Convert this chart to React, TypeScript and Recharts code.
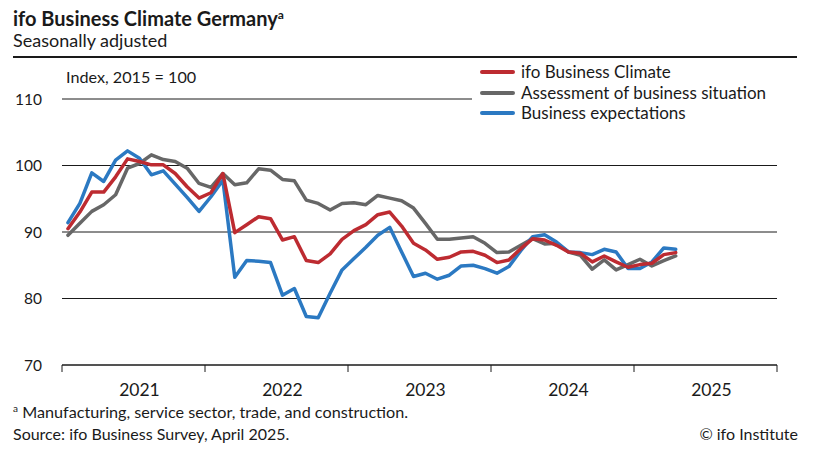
import React from "react";
import { LineChart, Line, XAxis, YAxis, CartesianGrid } from "recharts";

const START_YEAR = 2021;
const yearLabels = ["2021", "2022", "2023", "2024", "2025"];
const yTicks = [70, 80, 90, 100, 110];

const climate = [
  90.5, 93.0, 96.0, 96.0, 98.3, 101.0, 100.6, 100.1, 100.1, 98.8, 96.8, 95.1,
  95.9, 98.8, 89.9, 91.1, 92.3, 92.0, 88.8, 89.3, 85.7, 85.4, 86.7, 88.9,
  90.2, 91.1, 92.6, 93.0, 90.9, 88.3, 87.3, 85.9, 86.2, 87.0, 87.1, 86.5,
  85.4, 85.8, 87.5, 89.0, 88.8, 88.0, 87.0, 86.8, 85.5, 86.4, 85.5, 84.7,
  85.1, 85.3, 86.6, 86.9,
];
const situation = [
  89.5, 91.3, 93.1, 94.1, 95.6, 99.6, 100.3, 101.6, 100.9, 100.6, 99.6, 97.3,
  96.7, 98.8, 97.1, 97.4, 99.5, 99.3, 97.9, 97.7, 94.8, 94.3, 93.3, 94.3,
  94.4, 94.1, 95.5, 95.1, 94.7, 93.6, 91.3, 88.9, 88.9, 89.1, 89.3, 88.3,
  86.9, 87.0, 88.0, 89.0, 88.2, 88.3, 87.0, 86.5, 84.4, 85.8, 84.3, 85.1,
  85.9, 84.9, 85.7, 86.4,
];
const expectations = [
  91.4, 94.3, 98.9, 97.6, 100.8, 102.2, 101.1, 98.6, 99.2, 97.2, 95.2, 93.1,
  95.3, 97.8, 83.2, 85.7, 85.6, 85.4, 80.5, 81.5, 77.3, 77.1, 80.8, 84.3,
  86.0, 87.7, 89.5, 90.7, 87.0, 83.3, 83.8, 82.9, 83.5, 84.9, 85.0, 84.5,
  83.8, 84.8, 87.2, 89.3, 89.6, 88.5, 87.0, 86.9, 86.6, 87.4, 87.0, 84.5,
  84.5, 85.5, 87.6, 87.4,
];

const series = [
  { key: "climate", name: "ifo Business Climate", color: "#bd2b31" },
  { key: "situation", name: "Assessment of business situation", color: "#676767" },
  { key: "expectations", name: "Business expectations", color: "#2b79c2" },
];
const drawOrder = ["situation", "expectations", "climate"];

const data = climate.map((c, i) => ({
  m: i + 0.5,
  climate: c,
  situation: situation[i],
  expectations: expectations[i],
}));

const MONTHS = yearLabels.length * 12;
const boundaryTicks = Array.from({ length: yearLabels.length + 1 }, (_, i) => i * 12);
const labelTicks = yearLabels.map((_, i) => i * 12 + 6.5);
const xTicks = [...boundaryTicks, ...labelTicks].sort((a, b) => a - b);

const FONT = "Lato, 'Open Sans', sans-serif";
const TEXT = "#1a1a1a";

const XTick = (props: any) => {
  const { x, y, payload } = props;
  const v = payload.value as number;
  if (v % 12 === 0) {
    return <line x1={x} x2={x} y1={y} y2={y + 7} stroke={TEXT} strokeWidth={1} />;
  }
  const label = yearLabels[Math.floor(v / 12)] ?? String(START_YEAR + Math.floor(v / 12));
  return (
    <text x={x} y={y + 30.5} textAnchor="middle" fontSize={17.5} fill={TEXT} fontFamily={FONT}>
      {label}
    </text>
  );
};

export default function App() {
  return (
    <div
      style={{
        position: "absolute",
        left: 0,
        top: 0,
        width: 815,
        height: 455,
        background: "#fff",
        fontFamily: FONT,
        color: TEXT,
        overflow: "hidden",
      }}
    >
      <div style={{ position: "absolute", left: 13, top: 6, fontSize: 20, fontWeight: 700, whiteSpace: "nowrap" }}>
        ifo Business Climate Germany<sup style={{ fontSize: 12, verticalAlign: "top", position: "relative", top: 1 }}>a</sup>
      </div>
      <div style={{ position: "absolute", left: 13, top: 29, fontSize: 18, whiteSpace: "nowrap" }}>
        Seasonally adjusted
      </div>
      <div style={{ position: "absolute", left: 13, top: 56, width: 784, height: 2, background: TEXT }} />

      <LineChart
        width={815}
        height={455}
        data={data}
        margin={{ top: 99, right: 38, bottom: 60, left: 15 }}
        style={{ position: "absolute", left: 0, top: 0 }}
      >
        <CartesianGrid vertical={false} stroke={TEXT} strokeWidth={1} />
        <XAxis
          dataKey="m"
          type="number"
          domain={[0, MONTHS]}
          ticks={xTicks}
          interval={0}
          height={30}
          tickSize={0}
          tickMargin={0}
          tickLine={false}
          axisLine={{ stroke: TEXT, strokeWidth: 1 }}
          tick={<XTick />}
        />
        <YAxis
          domain={[70, 110]}
          ticks={yTicks}
          interval={0}
          width={47}
          axisLine={false}
          tickLine={false}
          tickSize={0}
          tickMargin={20}
          tick={{ fontSize: 15.5, fill: TEXT, fontFamily: FONT }}
        />
        {drawOrder.map((k) => {
          const s = series.find((x) => x.key === k)!;
          return (
            <Line
              key={k}
              dataKey={k}
              name={s.name}
              stroke={s.color}
              strokeWidth={3.5}
              dot={false}
              type="linear"
              isAnimationActive={false}
              strokeLinejoin="round"
              strokeLinecap="round"
            />
          );
        })}
      </LineChart>

      <div style={{ position: "absolute", left: 66, top: 67, fontSize: 16.2, whiteSpace: "nowrap" }}>
        Index, 2015 = 100
      </div>

      <div
        style={{
          position: "absolute",
          left: 472,
          top: 62,
          width: 330,
          height: 62,
          background: "#fff",
        }}
      >
        {series.map((s, i) => (
          <div key={s.key} style={{ position: "absolute", left: 0, top: i * 20.5, height: 20, width: 330 }}>
            <div
              style={{
                position: "absolute",
                left: 8,
                top: 8,
                width: 35,
                height: 4,
                borderRadius: 2,
                background: s.color,
              }}
            />
            <div style={{ position: "absolute", left: 49, top: 0, fontSize: 17, lineHeight: "20px", whiteSpace: "nowrap" }}>
              {s.name}
            </div>
          </div>
        ))}
      </div>

      <div style={{ position: "absolute", left: 13, top: 402, fontSize: 16.2, whiteSpace: "nowrap" }}>
        <sup style={{ fontSize: 10, verticalAlign: "top" }}>a</sup> Manufacturing, service sector, trade, and construction.
      </div>
      <div style={{ position: "absolute", left: 13, top: 424, fontSize: 16, whiteSpace: "nowrap" }}>
        Source: ifo Business Survey, April 2025.
      </div>
      <div style={{ position: "absolute", right: 17, top: 424, fontSize: 16, whiteSpace: "nowrap" }}>
        © ifo Institute
      </div>
    </div>
  );
}
